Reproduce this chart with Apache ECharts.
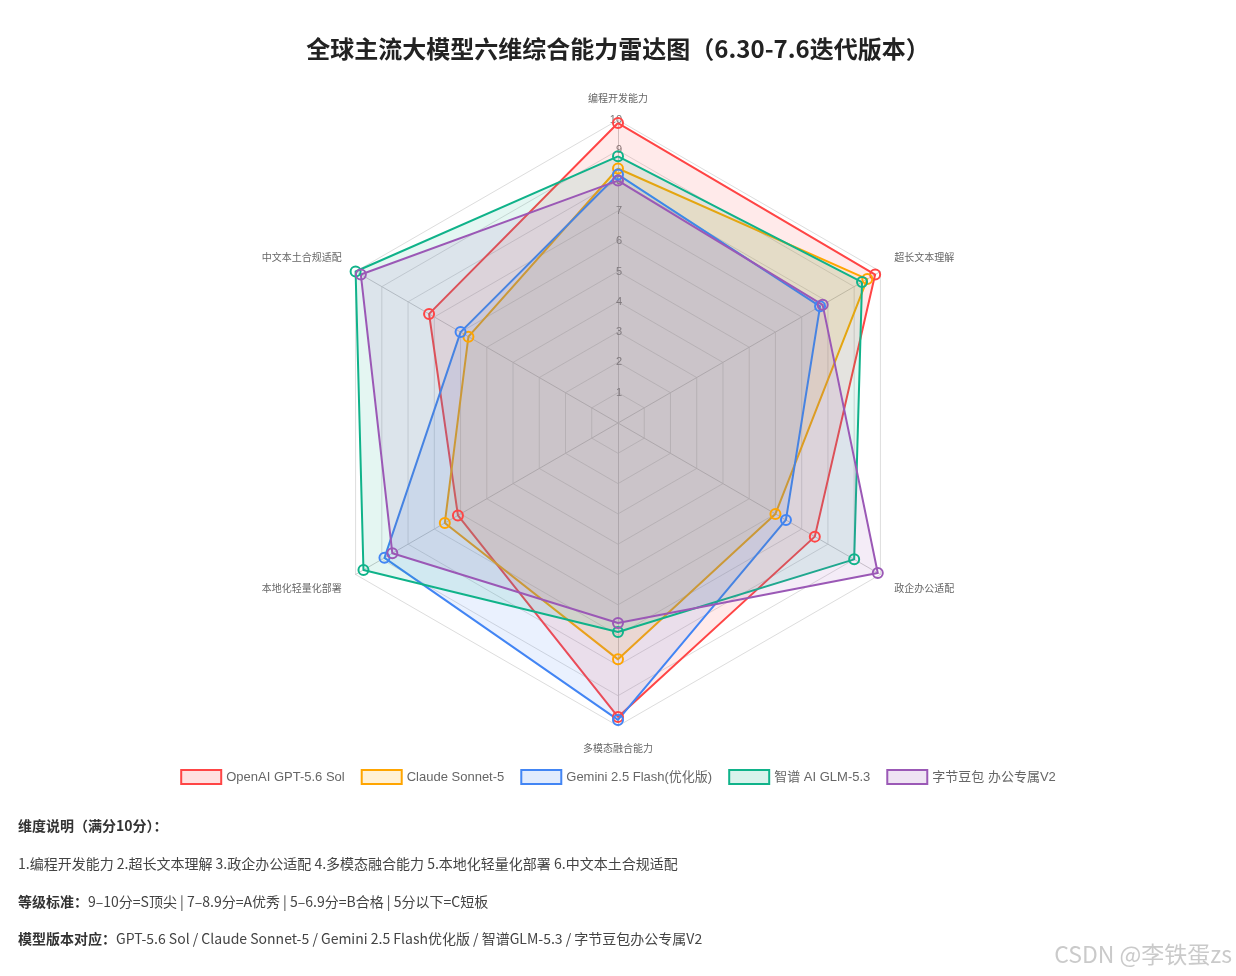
<!DOCTYPE html>
<html>
<head>
<meta charset="utf-8">
<script src="https://cdn.jsdelivr.net/npm/echarts@6/dist/echarts.min.js"></script>
<style>
html,body{margin:0;padding:0;background:#fff;}
#chart{width:1236px;height:976px;}
</style>
</head>
<body>
<div id="chart"></div>
<script>
const titleText = '全球主流大模型六维综合能力雷达图（6.30-7.6迭代版本）';
const dimensions = ['编程开发能力', '超长文本理解', '政企办公适配', '多模态融合能力', '本地化轻量化部署', '中文本土合规适配'];
const maxScore = 10;
const seriesNames = ['OpenAI GPT-5.6 Sol', 'Claude Sonnet-5', 'Gemini 2.5 Flash(优化版)', '智谱 AI GLM-5.3', '字节豆包 办公专属V2'];
const openaiValues = [9.9, 9.8, 7.5, 9.7, 6.1, 7.2];
const claudeValues = [8.4, 9.5, 6.0, 7.8, 6.6, 5.7];
const geminiValues = [8.2, 7.7, 6.4, 9.8, 8.9, 6.0];
const glmValues = [8.8, 9.3, 9.0, 6.9, 9.7, 10.0];
const doubaoValues = [8.0, 7.8, 9.9, 6.6, 8.6, 9.8];
const seriesColors = ['#ff4545', '#ffa500', '#4285f4', '#10b38a', '#9b59b6'];
const fillColors = ['rgba(255,69,69,0.16)', 'rgba(255,165,0,0.16)', 'rgba(66,133,244,0.16)', 'rgba(16,179,138,0.16)', 'rgba(155,89,182,0.16)'];
const noteLines = [
  ['维度说明（满分10分）：', ''],
  ['', '1.编程开发能力 2.超长文本理解 3.政企办公适配 4.多模态融合能力 5.本地化轻量化部署 6.中文本土合规适配'],
  ['等级标准：', '9–10分=S顶尖 | 7–8.9分=A优秀 | 5–6.9分=B合格 | 5分以下=C短板'],
  ['模型版本对应：', 'GPT-5.6 Sol / Claude Sonnet-5 / Gemini 2.5 Flash优化版 / 智谱GLM-5.3 / 字节豆包办公专属V2']
];
const watermark = 'CSDN @李铁蛋zs';

const allValues = [openaiValues, claudeValues, geminiValues, glmValues, doubaoValues];
const cjk = '"Noto Sans CJK SC", "Liberation Sans", sans-serif';

// ECharts lays radar axes counter-clockwise; the reference runs clockwise from the top.
const order = [0, 5, 4, 3, 2, 1];
const upperSide = [dimensions[1], dimensions[5]];
const lowerSide = [dimensions[2], dimensions[4]];

const chart = echarts.init(document.getElementById('chart'));

const indicator = order.map((k, i) => {
  const o = { name: dimensions[k], max: maxScore, min: 0 };
  if (i > 0) o.axisLabel = { show: false };
  return o;
});

const noteY = [826, 864, 902, 939];
const graphics = noteLines.map((ln, i) => ({
  type: 'text',
  left: 18,
  top: noteY[i] - 7,
  style: {
    text: (ln[0] ? '{b|' + ln[0] + '}' : '') + (ln[1] ? '{n|' + ln[1] + '}' : ''),
    rich: {
      b: { fontFamily: cjk, fontSize: 14, fontWeight: 'bold', fill: '#333', lineHeight: 20 },
      n: { fontFamily: cjk, fontSize: 14, fill: '#444', lineHeight: 20 }
    }
  }
}));
graphics.push({
  type: 'text',
  right: 4,
  top: 943,
  style: { text: watermark, fontFamily: cjk, fontSize: 23, fill: 'rgba(150,150,150,0.5)' }
});

chart.setOption({
  backgroundColor: '#fff',
  animation: false,
  title: {
    text: titleText,
    left: 'center',
    top: 32,
    textStyle: { fontFamily: cjk, fontSize: 24, fontWeight: 'bold', color: '#222' }
  },
  legend: {
    top: 764,
    left: 'center',
    itemWidth: 40,
    itemHeight: 14,
    itemGap: 16,
    textStyle: { fontFamily: '"Liberation Sans", "Noto Sans CJK SC", sans-serif', fontSize: 13, color: '#666' },
    data: seriesNames.map((n, i) => ({
      name: n,
      icon: 'rect',
      itemStyle: { color: fillColors[i], borderColor: seriesColors[i], borderWidth: 2 }
    }))
  },
  radar: {
    center: [618, 423],
    radius: 303,
    startAngle: 90,
    splitNumber: 10,
    shape: 'polygon',
    nameGap: 16,
    axisName: {
      color: '#666', fontSize: 10, fontFamily: cjk, lineHeight: 12,
      formatter: function (name) {
        if (upperSide.indexOf(name) >= 0) return name + '\n';
        if (lowerSide.indexOf(name) >= 0) return '\n' + name;
        return name;
      }
    },
    axisLabel: { show: true, color: '#777', fontSize: 11, showMinLabel: false, margin: -4 },
    axisLine: { lineStyle: { color: '#cccccc' } },
    splitLine: { lineStyle: { color: '#dddddd', width: 1 } },
    splitArea: { show: false },
    indicator: indicator
  },
  series: [{
    type: 'radar',
    symbol: 'circle',
    symbolSize: 10,
    data: allValues.map((vals, i) => ({
      name: seriesNames[i],
      value: order.map(k => vals[k]),
      lineStyle: { color: seriesColors[i], width: 2 },
      itemStyle: { color: 'rgba(255,255,255,0)', borderColor: seriesColors[i], borderWidth: 2 },
      areaStyle: { color: fillColors[i] }
    }))
  }],
  graphic: graphics
});
</script>
</body>
</html>
